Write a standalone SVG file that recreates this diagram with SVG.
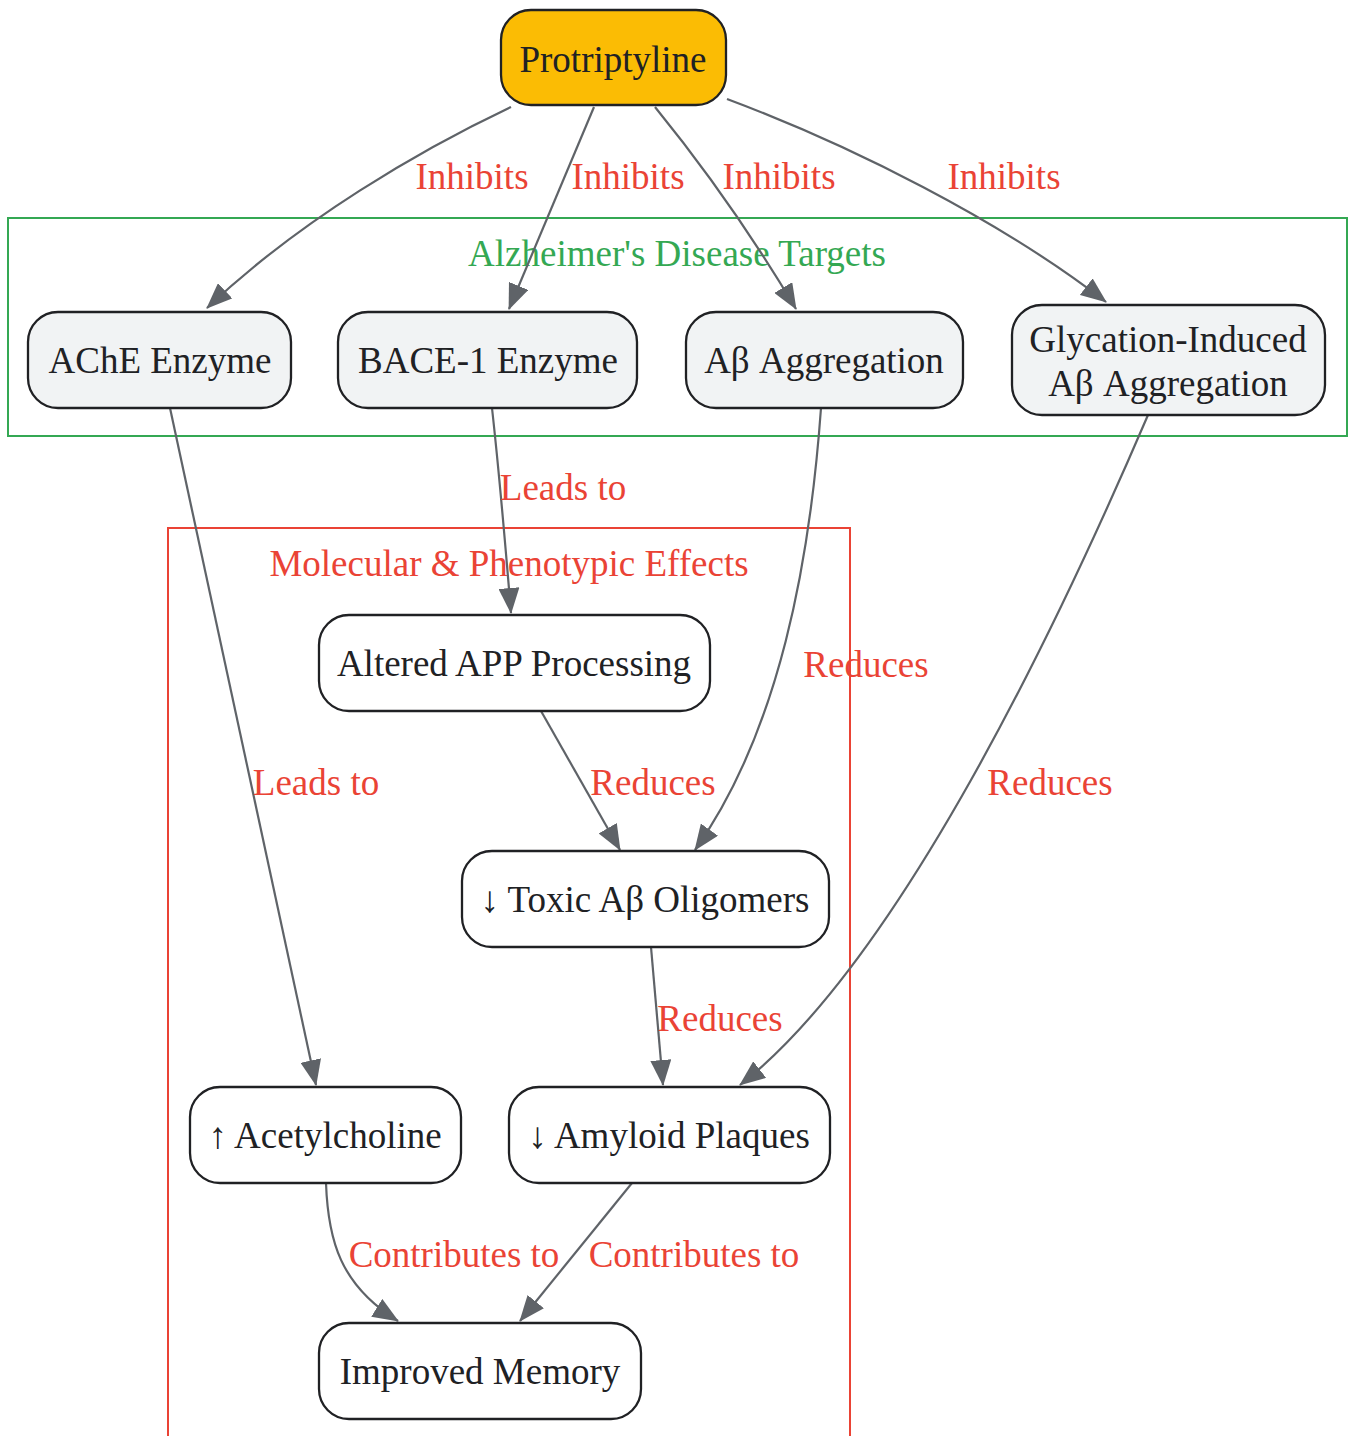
<svg xmlns="http://www.w3.org/2000/svg" width="1348" height="1436" viewBox="0 0 1348 1436">
<defs>
<style>
text{font-family:"Liberation Serif","Times New Roman",serif;font-size:37px;text-anchor:middle}
.node rect{fill:#f1f3f4;stroke:#202124;stroke-width:2.3}
.node.white rect{fill:#ffffff}
.node.top rect{fill:#fbbc04}
.node text{fill:#202124}
.edge{fill:none;stroke:#5f6368;stroke-width:2.2;marker-end:url(#arrow)}
.elabel{fill:#ea4335}
.cluster{fill:none;stroke-width:2}
</style>
<marker id="arrow" viewBox="0 0 26 21" refX="25" refY="10.5" markerWidth="26" markerHeight="21" markerUnits="userSpaceOnUse" orient="auto">
<path d="M0,0 L26,10.5 L0,21 z" fill="#5f6368"/>
</marker>
</defs>
<rect width="1348" height="1436" fill="#ffffff"/>
<g id="clusters">
<g id="cluster-targets">
<rect class="cluster" x="8" y="218" width="1339" height="218" stroke="#34a853"/>
<text x="677" y="266" fill="#34a853">Alzheimer's Disease Targets</text>
</g>
<g id="cluster-effects">
<rect class="cluster" x="168" y="528" width="682" height="940" stroke="#ea4335"/>
<text x="509" y="576" fill="#ea4335">Molecular &amp; Phenotypic Effects</text>
</g>
</g>
<g id="connectors">
<path class="edge" d="M511,107 C420,150 300,220 207,308"/>
<path class="edge" d="M594,107 C570,165 540,235 509,309"/>
<path class="edge" d="M655,107 C690,150 740,215 796,309"/>
<path class="edge" d="M727,99 C850,145 1000,220 1106,302"/>
<path class="edge" d="M170,408 L316,1085"/>
<path class="edge" d="M492,408 C500,480 505,540 511,613"/>
<path class="edge" d="M821,408 C810,560 780,730 695,850"/>
<path class="edge" d="M541,711 L620,850"/>
<path class="edge" d="M1148,415 C1060,620 900,960 740,1085"/>
<path class="edge" d="M651,947 L663,1085"/>
<path class="edge" d="M326,1183 C328,1240 340,1285 398,1321"/>
<path class="edge" d="M632,1183 L520,1321"/>
<text class="elabel" x="472" y="189">Inhibits</text>
<text class="elabel" x="628" y="189">Inhibits</text>
<text class="elabel" x="779" y="189">Inhibits</text>
<text class="elabel" x="1004" y="189">Inhibits</text>
<text class="elabel" x="316" y="795">Leads to</text>
<text class="elabel" x="563" y="500">Leads to</text>
<text class="elabel" x="866" y="677">Reduces</text>
<text class="elabel" x="653" y="795">Reduces</text>
<text class="elabel" x="1050" y="795">Reduces</text>
<text class="elabel" x="720" y="1031">Reduces</text>
<text class="elabel" x="454" y="1267">Contributes to</text>
<text class="elabel" x="694" y="1267">Contributes to</text>
</g>
<g id="node-protriptyline" class="node top">
<rect x="501" y="10" width="225" height="95" rx="30"/>
<text x="613" y="72">Protriptyline</text>
</g>
<g id="node-ache" class="node">
<rect x="28" y="312" width="263" height="96" rx="30"/>
<text x="160" y="373">AChE Enzyme</text>
</g>
<g id="node-bace" class="node">
<rect x="338" y="312" width="299" height="96" rx="30"/>
<text x="488" y="373">BACE-1 Enzyme</text>
</g>
<g id="node-abagg" class="node">
<rect x="686" y="312" width="277" height="96" rx="30"/>
<text x="824" y="373">Aβ Aggregation</text>
</g>
<g id="node-glyc" class="node">
<rect x="1012" y="305" width="313" height="110" rx="30"/>
<text x="1168" y="352">Glycation-Induced</text>
<text x="1168" y="396">Aβ Aggregation</text>
</g>
<g id="node-app" class="node white">
<rect x="319" y="615" width="391" height="96" rx="30"/>
<text x="514" y="676">Altered APP Processing</text>
</g>
<g id="node-toxic" class="node white">
<rect x="462" y="851" width="367" height="96" rx="30"/>
<text x="645" y="912">↓ Toxic Aβ Oligomers</text>
</g>
<g id="node-ach" class="node white">
<rect x="190" y="1087" width="271" height="96" rx="30"/>
<text x="325" y="1148">↑ Acetylcholine</text>
</g>
<g id="node-plaques" class="node white">
<rect x="509" y="1087" width="321" height="96" rx="30"/>
<text x="669" y="1148">↓ Amyloid Plaques</text>
</g>
<g id="node-memory" class="node white">
<rect x="319" y="1323" width="322" height="96" rx="30"/>
<text x="480" y="1384">Improved Memory</text>
</g>
</svg>
